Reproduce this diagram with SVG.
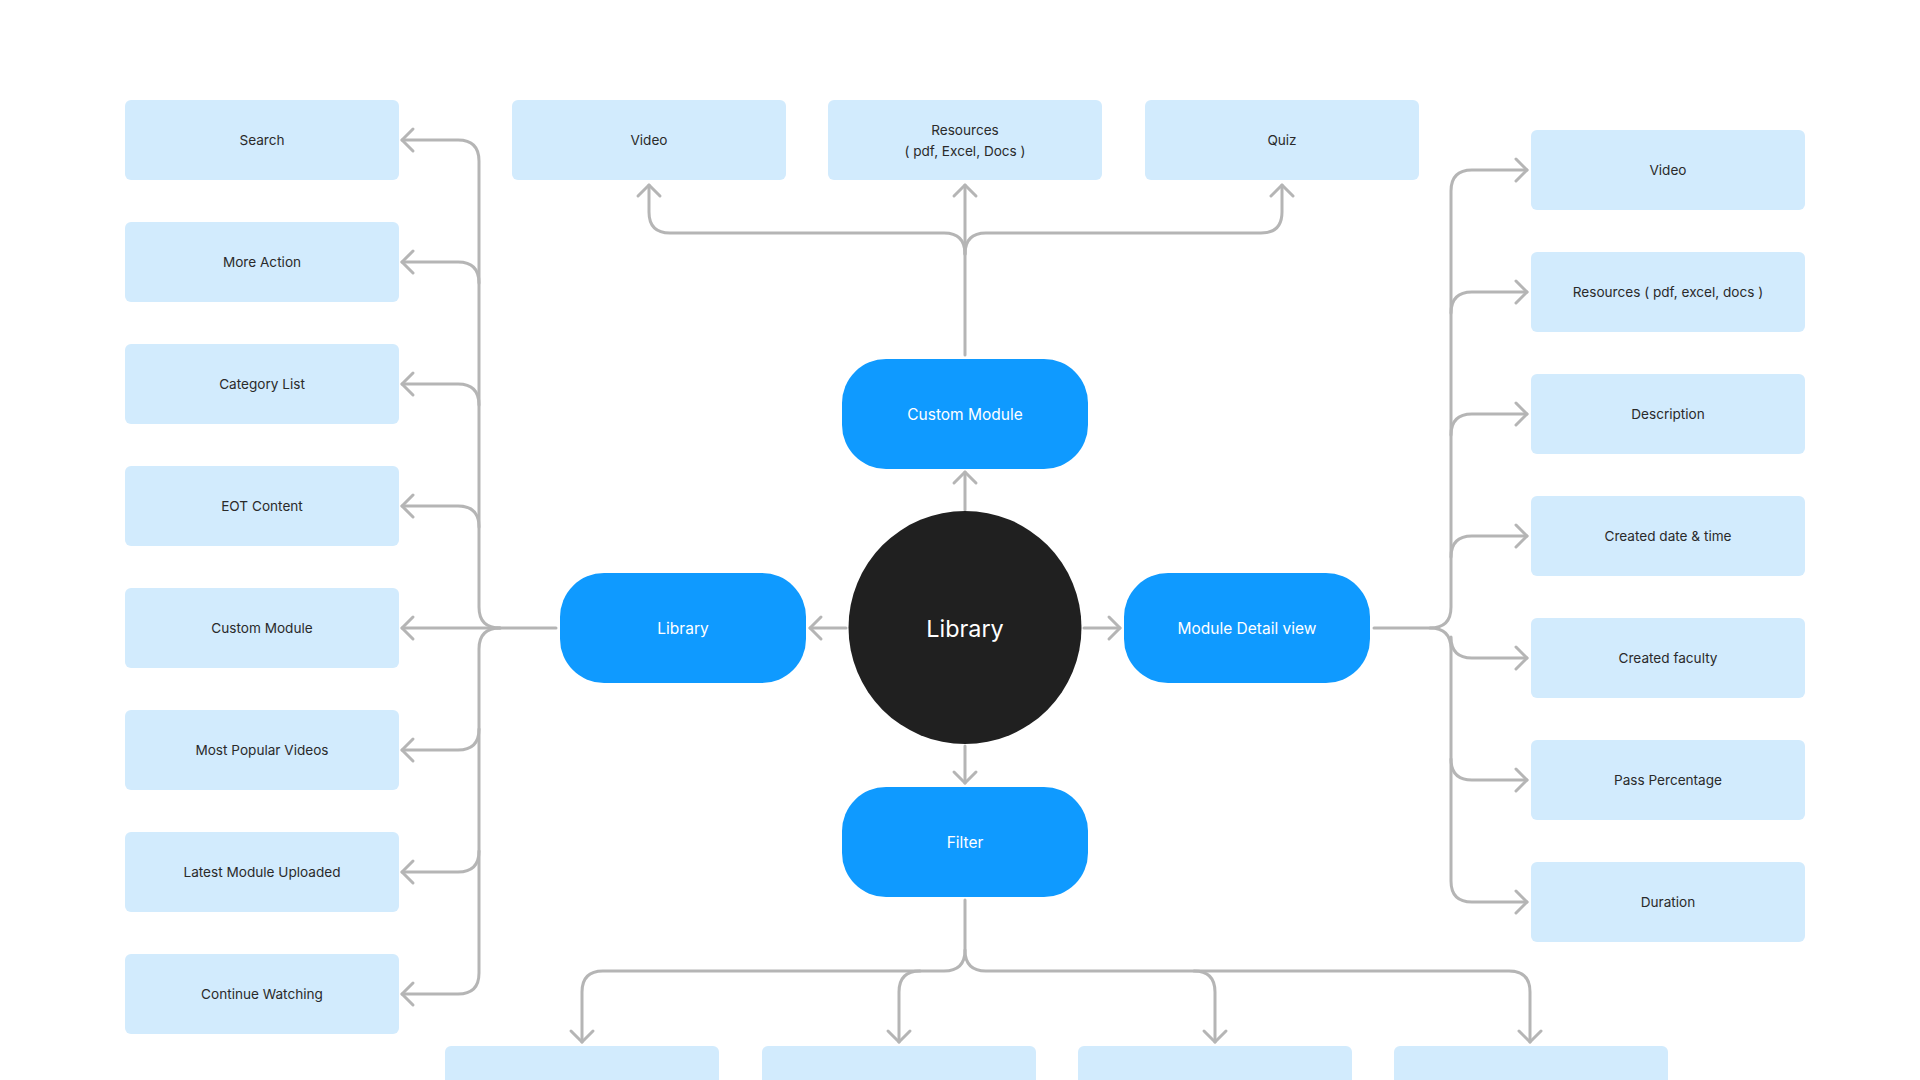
<svg xmlns="http://www.w3.org/2000/svg" width="1920" height="1080" viewBox="0 0 1920 1080">
  <style>
    .box { fill: #D2EBFD; }
    .box-text { font-family: Inter, "Liberation Sans", sans-serif; font-size: 13.6px; fill: #2A2A2A; text-anchor: middle; dominant-baseline: central; }
    .pill { fill: #0F9AFF; }
    .pill-text { font-family: Inter, "Liberation Sans", sans-serif; font-size: 15.5px; fill: #FFFFFF; text-anchor: middle; dominant-baseline: central; }
    .hub { fill: #202020; }
    .hub-text { font-family: Inter, "Liberation Sans", sans-serif; font-size: 23.4px; fill: #FFFFFF; text-anchor: middle; dominant-baseline: central; }
    .link { fill: none; stroke: #B5B5B5; stroke-width: 3; stroke-linecap: round; stroke-linejoin: round; }
    .arrow { marker-end: url(#chevron); }
  </style>
  <defs>
    <marker id="chevron" markerUnits="userSpaceOnUse" markerWidth="30" markerHeight="30" viewBox="-15 -15 30 30" refX="0" refY="0" orient="auto" overflow="visible">
      <path d="M-11,-11 L0,0 L-11,11" fill="none" stroke="#B5B5B5" stroke-width="3" stroke-linecap="round" stroke-linejoin="round"/>
    </marker>
  </defs>

  <rect width="1920" height="1080" fill="#FFFFFF"/>

  <!-- connectors -->
  <g id="connectors">
    <!-- hub to the four pills -->
    <path class="link arrow" d="M965,510 V472"/>
    <path class="link arrow" d="M846,628 H810"/>
    <path class="link arrow" d="M1084,628 H1120"/>
    <path class="link arrow" d="M965,746 V783"/>

    <!-- Custom Module to its contents -->
    <path class="link arrow" d="M965,355 V185"/>
    <path class="link arrow" d="M965,254 Q965,233 944,233 H670 Q649,233 649,212 V185"/>
    <path class="link arrow" d="M965,254 Q965,233 986,233 H1261 Q1282,233 1282,212 V185"/>

    <!-- Library to its sections -->
    <path class="link arrow" d="M556,628 H402"/>
    <path class="link arrow" d="M500,628 Q479,628 479,607 V161 Q479,140 458,140 H402"/>
    <path class="link arrow" d="M500,628 Q479,628 479,649 V973 Q479,994 458,994 H402"/>
    <path class="link arrow" d="M479,283 Q479,262 458,262 H402"/>
    <path class="link arrow" d="M479,405 Q479,384 458,384 H402"/>
    <path class="link arrow" d="M479,527 Q479,506 458,506 H402"/>
    <path class="link arrow" d="M479,729 Q479,750 458,750 H402"/>
    <path class="link arrow" d="M479,851 Q479,872 458,872 H402"/>

    <!-- Module Detail view to its fields -->
    <path class="link arrow" d="M1374,628 H1430 Q1451,628 1451,607 V191 Q1451,170 1472,170 H1527"/>
    <path class="link arrow" d="M1430,628 Q1451,628 1451,649 V881 Q1451,902 1472,902 H1527"/>
    <path class="link arrow" d="M1451,313 Q1451,292 1472,292 H1527"/>
    <path class="link arrow" d="M1451,435 Q1451,414 1472,414 H1527"/>
    <path class="link arrow" d="M1451,557 Q1451,536 1472,536 H1527"/>
    <path class="link arrow" d="M1451,637 Q1451,658 1472,658 H1527"/>
    <path class="link arrow" d="M1451,759 Q1451,780 1472,780 H1527"/>

    <!-- Filter to its options -->
    <path class="link arrow" d="M965,900 V950 Q965,971 944,971 H603 Q582,971 582,992 V1042"/>
    <path class="link arrow" d="M965,950 Q965,971 986,971 H1509 Q1530,971 1530,992 V1042"/>
    <path class="link arrow" d="M920,971 Q899,971 899,992 V1042"/>
    <path class="link arrow" d="M1194,971 Q1215,971 1215,992 V1042"/>
  </g>

  <!-- central hub -->
  <g id="hub">
    <circle class="hub" cx="965" cy="627.5" r="116.5"/>
    <text class="hub-text" x="965" y="628">Library</text>
  </g>

  <!-- primary pills -->
  <g id="custom-module">
    <rect class="pill" x="842" y="359" width="246" height="110" rx="44"/>
    <text class="pill-text" x="965" y="414">Custom Module</text>
  </g>
  <g id="library">
    <rect class="pill" x="560" y="573" width="246" height="110" rx="44"/>
    <text class="pill-text" x="683" y="628">Library</text>
  </g>
  <g id="module-detail-view">
    <rect class="pill" x="1124" y="573" width="246" height="110" rx="44"/>
    <text class="pill-text" x="1247" y="628">Module Detail view</text>
  </g>
  <g id="filter">
    <rect class="pill" x="842" y="787" width="246" height="110" rx="44"/>
    <text class="pill-text" x="965" y="842">Filter</text>
  </g>

  <!-- Custom Module contents -->
  <g id="cm-video">
    <rect class="box" x="512" y="100" width="274" height="80" rx="6"/>
    <text class="box-text" x="649" y="140">Video</text>
  </g>
  <g id="cm-resources">
    <rect class="box" x="828" y="100" width="274" height="80" rx="6"/>
    <text class="box-text" x="965" y="130">Resources</text>
    <text class="box-text" x="965" y="151">( pdf, Excel, Docs )</text>
  </g>
  <g id="cm-quiz">
    <rect class="box" x="1145" y="100" width="274" height="80" rx="6"/>
    <text class="box-text" x="1282" y="140">Quiz</text>
  </g>

  <!-- Library sections -->
  <g id="lib-search">
    <rect class="box" x="125" y="100" width="274" height="80" rx="6"/>
    <text class="box-text" x="262" y="140">Search</text>
  </g>
  <g id="lib-more-action">
    <rect class="box" x="125" y="222" width="274" height="80" rx="6"/>
    <text class="box-text" x="262" y="262">More Action</text>
  </g>
  <g id="lib-category-list">
    <rect class="box" x="125" y="344" width="274" height="80" rx="6"/>
    <text class="box-text" x="262" y="384">Category List</text>
  </g>
  <g id="lib-eot-content">
    <rect class="box" x="125" y="466" width="274" height="80" rx="6"/>
    <text class="box-text" x="262" y="506">EOT Content</text>
  </g>
  <g id="lib-custom-module">
    <rect class="box" x="125" y="588" width="274" height="80" rx="6"/>
    <text class="box-text" x="262" y="628">Custom Module</text>
  </g>
  <g id="lib-most-popular">
    <rect class="box" x="125" y="710" width="274" height="80" rx="6"/>
    <text class="box-text" x="262" y="750">Most Popular Videos</text>
  </g>
  <g id="lib-latest-module">
    <rect class="box" x="125" y="832" width="274" height="80" rx="6"/>
    <text class="box-text" x="262" y="872">Latest Module Uploaded</text>
  </g>
  <g id="lib-continue-watching">
    <rect class="box" x="125" y="954" width="274" height="80" rx="6"/>
    <text class="box-text" x="262" y="994">Continue Watching</text>
  </g>

  <!-- Module Detail view fields -->
  <g id="md-video">
    <rect class="box" x="1531" y="130" width="274" height="80" rx="6"/>
    <text class="box-text" x="1668" y="170">Video</text>
  </g>
  <g id="md-resources">
    <rect class="box" x="1531" y="252" width="274" height="80" rx="6"/>
    <text class="box-text" x="1668" y="292">Resources ( pdf, excel, docs )</text>
  </g>
  <g id="md-description">
    <rect class="box" x="1531" y="374" width="274" height="80" rx="6"/>
    <text class="box-text" x="1668" y="414">Description</text>
  </g>
  <g id="md-created-date">
    <rect class="box" x="1531" y="496" width="274" height="80" rx="6"/>
    <text class="box-text" x="1668" y="536">Created date &amp; time</text>
  </g>
  <g id="md-created-faculty">
    <rect class="box" x="1531" y="618" width="274" height="80" rx="6"/>
    <text class="box-text" x="1668" y="658">Created faculty</text>
  </g>
  <g id="md-pass-percentage">
    <rect class="box" x="1531" y="740" width="274" height="80" rx="6"/>
    <text class="box-text" x="1668" y="780">Pass Percentage</text>
  </g>
  <g id="md-duration">
    <rect class="box" x="1531" y="862" width="274" height="80" rx="6"/>
    <text class="box-text" x="1668" y="902">Duration</text>
  </g>

  <!-- Filter options -->
  <g id="filter-1">
    <rect class="box" x="445" y="1046" width="274" height="80" rx="6"/>
  </g>
  <g id="filter-2">
    <rect class="box" x="762" y="1046" width="274" height="80" rx="6"/>
  </g>
  <g id="filter-3">
    <rect class="box" x="1078" y="1046" width="274" height="80" rx="6"/>
  </g>
  <g id="filter-4">
    <rect class="box" x="1394" y="1046" width="274" height="80" rx="6"/>
  </g>
</svg>
